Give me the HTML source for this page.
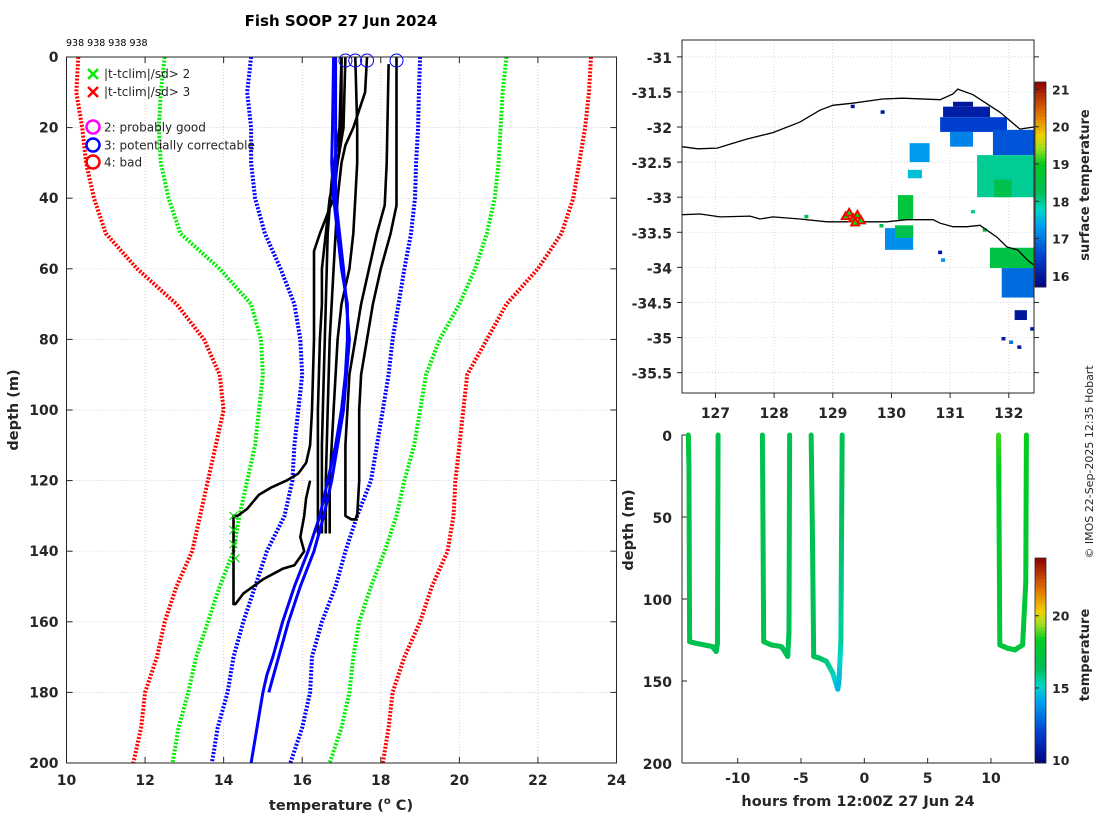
<!DOCTYPE html>
<html><head><meta charset="utf-8">
<style>
html,body{margin:0;padding:0;background:#fff;}
svg{display:block;font-family:"DejaVu Sans","Liberation Sans",sans-serif;}
.tk{font-size:14px;font-weight:bold;fill:#262626;}
.lab{font-size:14.5px;font-weight:bold;fill:#262626;}
</style></head>
<body>
<svg id="fig" width="1100" height="820" viewBox="0 0 1100 820" xmlns="http://www.w3.org/2000/svg"></svg>
<script>
// ---------- Left chart data ----------
const depths = [0,10,20,30,40,50,60,70,80,90,100,110,120,130,140,150,160,170,180,190,200];
const red3Lo   = [10.3,10.25,10.4,10.5,10.7,11.0,11.8,12.8,13.5,13.9,14.0,13.8,13.6,13.4,13.2,12.8,12.5,12.3,12.0,11.9,11.7];
const green2Lo = [12.5,12.4,12.35,12.4,12.6,12.9,13.9,14.7,14.95,15.0,14.9,14.8,14.6,14.4,14.25,13.9,13.6,13.3,13.1,12.85,12.7];
const blue1Lo  = [14.7,14.6,14.7,14.7,14.8,15.05,15.45,15.8,15.95,16.0,15.9,15.8,15.75,15.55,15.1,14.8,14.5,14.25,14.1,13.85,13.7];
const blue1Hi  = [19.0,18.97,18.95,18.9,18.87,18.77,18.6,18.45,18.3,18.2,18.05,17.9,17.75,17.4,17.1,16.85,16.5,16.25,16.2,16.0,15.7];
const green2Hi = [21.2,21.1,21.05,21.0,20.9,20.7,20.4,20.0,19.5,19.15,19.0,18.85,18.6,18.4,18.1,17.75,17.45,17.3,17.2,17.0,16.7];
const red3Hi   = [23.35,23.3,23.2,23.05,22.9,22.6,22.0,21.2,20.7,20.2,20.1,20.0,19.9,19.85,19.7,19.3,19.0,18.6,18.3,18.2,18.05];

const blueDepth = [0,20,30,40,50,60,70,80,90,100,110,120,130,140,150,160,170,175,180,190,200];
const blueTemp  = [16.8,16.77,16.75,16.8,16.9,17.0,17.15,17.15,17.1,17.0,16.85,16.65,16.45,16.15,15.8,15.5,15.25,15.1,15.0,14.85,14.7];
const blue2Depth = [0,40,60,80,100,120,130,140,150,160,170,180];
const blue2Temp  = [16.85,16.85,17.05,17.2,17.05,16.75,16.55,16.3,15.95,15.65,15.4,15.15];

const profA_d = [0,42,50,60,70,80,90,100,120,130,131];
const profA_t = [18.4,18.4,18.25,18.0,17.8,17.65,17.5,17.45,17.45,17.4,17.35];
const profB_d = [2,30,42,50,60,70,80,90,100,110,120,130,131,131];
const profB_t = [18.2,18.15,18.1,17.9,17.7,17.5,17.35,17.2,17.15,17.1,17.1,17.1,17.25,17.4];
const profC_d = [0,10,15,20,25,30,40,60,80,100,120,135];
const profC_t = [17.65,17.6,17.45,17.3,17.1,17.0,16.9,16.8,16.7,16.65,16.6,16.6];
const profD_d = [0,20,30,40,50,60,70,80,90,100,110,120,135];
const profD_t = [17.35,17.4,17.4,17.35,17.3,17.2,17.0,16.9,16.85,16.8,16.75,16.7,16.7];
const profE_d = [0,20,30,40,50,60,70,80,100,120,135];
const profE_t = [17.1,17.05,16.9,16.7,16.6,16.5,16.5,16.45,16.4,16.4,16.4];
const profF_d = [0,20,40,50,55,60,80,100,110,115,118,120,122,124,128,130,130,155,155,152,148,145,144,140,136,130,125,120];
const profF_t = [17.0,17.0,16.8,16.45,16.3,16.3,16.3,16.25,16.2,16.1,15.9,15.6,15.2,14.9,14.6,14.35,14.25,14.25,14.3,14.5,15.0,15.5,15.8,16.05,15.95,16.05,16.1,16.2];
const profG_d = [0,20,35,50,70,90,110,130,135];
const profG_t = [17.0,16.95,16.75,16.65,16.6,16.55,16.5,16.5,16.5];
const qcCircleTemps = [17.1,17.35,17.65,18.4];
const flagDepths = [130,134,138,142];
const flagTemps  = [14.25,14.25,14.25,14.3];

// ---------- Map data ----------
const coastN_lon = [126.43,126.70,127.03,127.30,127.54,127.98,128.44,128.78,129.00,129.34,129.85,130.19,130.83,131.05,131.13,131.39,131.85,132.19,132.43];
const coastN_lat = [-32.28,-32.31,-32.30,-32.23,-32.17,-32.08,-31.93,-31.76,-31.69,-31.66,-31.60,-31.59,-31.61,-31.53,-31.46,-31.54,-31.79,-32.03,-32.00];
const coastS_lon = [126.43,126.74,127.08,127.59,127.76,127.98,128.44,128.90,129.34,129.92,130.26,130.71,130.83,131.05,131.29,131.51,131.80,131.97,132.15,132.31,132.43];
const coastS_lat = [-33.25,-33.24,-33.28,-33.27,-33.31,-33.28,-33.31,-33.35,-33.35,-33.35,-33.32,-33.32,-33.37,-33.42,-33.42,-33.40,-33.57,-33.71,-33.75,-33.89,-33.97];
const patchLon0 = [131.05,130.88,130.83,131.00,131.73,131.46,131.75,130.31,130.28,130.11,129.89,130.06,131.68,131.88,132.10];
const patchLat0 = [-31.64,-31.71,-31.86,-32.07,-32.04,-32.40,-32.75,-32.23,-32.61,-32.97,-33.44,-33.40,-33.72,-34.01,-34.61];
const patchLon1 = [131.39,131.68,131.97,131.39,132.43,132.43,132.05,130.65,130.52,130.37,130.37,130.37,132.43,132.43,132.31];
const patchLat1 = [-31.71,-31.86,-32.07,-32.28,-32.40,-33.00,-33.00,-32.50,-32.73,-33.32,-33.75,-33.58,-34.01,-34.43,-34.75];
const patchSst  = [16.0,16.1,16.5,17.1,16.7,18.0,18.4,17.3,17.6,18.6,17.2,18.4,18.5,16.9,16.0];
const dotLon = [129.34,129.85,130.83,130.88,131.91,132.04,132.18,128.55,129.83,131.39,131.59,132.40];
const dotLat = [-31.71,-31.79,-33.79,-33.90,-35.02,-35.07,-35.14,-33.28,-33.41,-33.21,-33.47,-34.88];
const dotSst = [16.0,16.0,16.0,17.2,16.1,17.0,16.0,18.3,18.3,18.0,18.3,16.0];
const dropLon = [129.22,129.28,129.35,129.42,129.48,129.38];
const dropLat = [-33.27,-33.22,-33.30,-33.25,-33.33,-33.36];

// ---------- Time-depth data ----------
const tr1_h = [-13.9,-13.85,-13.8,-13.3,-12.0,-11.7,-11.6,-11.55];
const tr1_d = [0,20,126,127,129,132,127,0];
const tr1_t = [17.5,16.9,16.7,16.7,16.7,16.6,16.7,16.8];
const tr2_h = [-8.05,-8.0,-7.95,-7.35,-6.55,-6.2,-6.05,-5.95,-5.9];
const tr2_d = [0,60,126,128,129,133,135,120,0];
const tr2_t = [16.8,16.7,16.7,16.7,16.6,16.5,16.5,16.6,16.7];
const tr3_h = [-4.2,-4.1,-4.0,-3.55,-3.0,-2.5,-2.1,-2.0,-1.85,-1.75];
const tr3_d = [0,60,135,136,138,145,155,150,125,0];
const tr3_t = [16.8,16.6,16.4,16.3,16.0,15.5,14.6,14.5,15.6,16.7];
const tr4_h = [10.6,10.62,10.7,11.3,11.9,12.5,12.75,12.8];
const tr4_d = [0,25,128,130,131,128,90,0];
const tr4_t = [18.8,18.3,17.4,17.3,17.3,17.3,17.6,18.4];

// ---------- helpers ----------
const NS = 'http://www.w3.org/2000/svg';
const svg = document.getElementById('fig');
function mk(tag, attrs, parent){ const e=document.createElementNS(NS,tag); for(const k in attrs) e.setAttribute(k,attrs[k]); (parent||svg).appendChild(e); return e; }
function txt(s, attrs, parent){ const e=mk('text',attrs,parent); e.textContent=s; return e; }

const L = {x0:66.5,x1:616.5,y0:57,y1:763,t0:10,t1:24,d0:0,d1:200};
const lx = t => L.x0 + (t-L.t0)/(L.t1-L.t0)*(L.x1-L.x0);
const ly = d => L.y0 + (d-L.d0)/(L.d1-L.d0)*(L.y1-L.y0);
const M = {x0:682,x1:1034,y0:40,y1:393,lon0:126.43,lon1:132.43,lat0:-30.76,lat1:-35.79};
const mx = lon => M.x0 + (lon-M.lon0)/(M.lon1-M.lon0)*(M.x1-M.x0);
const my = lat => M.y0 + (lat-M.lat0)/(M.lat1-M.lat0)*(M.y1-M.y0);
const T = {x0:682,x1:1034,y0:435,y1:763,h0:-14.4,h1:13.4,d0:0,d1:200};
const tx = h => T.x0 + (h-T.h0)/(T.h1-T.h0)*(T.x1-T.x0);
const ty = d => T.y0 + (d-T.d0)/(T.d1-T.d0)*(T.y1-T.y0);

const stops = [[0,[0,0,128]],[0.15,[0,64,208]],[0.3,[0,160,240]],[0.38,[0,216,200]],[0.46,[0,190,90]],[0.6,[0,204,32]],[0.68,[160,224,32]],[0.74,[240,208,0]],[0.85,[224,112,0]],[1,[144,0,0]]];
function cmap(f){ f=Math.max(0,Math.min(1,f)); for(let i=1;i<stops.length;i++){ if(f<=stops[i][0]){ const a=stops[i-1],b=stops[i]; const u=(f-a[0])/(b[0]-a[0]); const c=a[1].map((v,k)=>Math.round(v+(b[1][k]-v)*u)); return `rgb(${c[0]},${c[1]},${c[2]})`; } } return 'rgb(144,0,0)'; }

// ---------- Title ----------
const title = txt('Fish SOOP 27 Jun 2024',{x:341,y:26,'text-anchor':'middle','font-size':15,'font-weight':'bold',fill:'#000'});


const cnt = txt('938 938 938 938',{x:66,y:46,'font-size':9.5,fill:'#000'});



// ---------- Left chart ----------
const gL = mk('g',{});


const xt = [10,12,14,16,18,20,22,24];
const yt = [0,20,40,60,80,100,120,140,160,180,200];
xt.forEach(t=>{
  if(t>L.t0 && t<L.t1) mk('line',{x1:lx(t),x2:lx(t),y1:L.y0,y2:L.y1,stroke:'#e0b8a0','stroke-width':0.7,'stroke-dasharray':'1,2'},gL);
  mk('line',{x1:lx(t),x2:lx(t),y1:L.y1,y2:L.y1-6,stroke:'#262626'},gL);
  mk('line',{x1:lx(t),x2:lx(t),y1:L.y0,y2:L.y0+6,stroke:'#262626'},gL);
  const e=txt(String(t),{x:lx(t),y:L.y1+22,'text-anchor':'middle',class:'tk'},gL);
  
  
});
yt.forEach(d=>{
  if(d>L.d0 && d<L.d1) mk('line',{x1:L.x0,x2:L.x1,y1:ly(d),y2:ly(d),stroke:'#b8c0e8','stroke-width':0.7,'stroke-dasharray':'1,2'},gL);
  mk('line',{x1:L.x0,x2:L.x0+6,y1:ly(d),y2:ly(d),stroke:'#262626'},gL);
  mk('line',{x1:L.x1,x2:L.x1-6,y1:ly(d),y2:ly(d),stroke:'#262626'},gL);
  const e=txt(String(d),{x:L.x0-8,y:ly(d)+5,'text-anchor':'end',class:'tk'},gL);
  
  
});
function pathLD(ds,ts){ return ds.map((d,i)=>(i?'L':'M')+lx(ts[i]).toFixed(1)+','+ly(d).toFixed(1)).join(''); }
const climSeries = [[red3Lo,'#ff0000','clim-minus-3sd'],[green2Lo,'#00ee00','clim-minus-2sd'],[blue1Lo,'#0000ff','clim-minus-1sd'],[blue1Hi,'#0000ff','clim-plus-1sd'],[green2Hi,'#00ee00','clim-plus-2sd'],[red3Hi,'#ff0000','clim-plus-3sd']];
climSeries.forEach(s=>{
  const p=mk('path',{d:pathLD(depths,s[0]),fill:'none',stroke:s[1],'stroke-width':4,'stroke-dasharray':'2,1.6'},gL);
  
  
});
const profs=[[profA_d,profA_t],[profB_d,profB_t],[profC_d,profC_t],[profD_d,profD_t],[profE_d,profE_t],[profF_d,profF_t],[profG_d,profG_t]];
profs.forEach(p=>{
  const e=mk('path',{d:pathLD(p[0],p[1]),fill:'none',stroke:'#000','stroke-width':2.6,'stroke-linejoin':'round'},gL);
  
  
});
[[blueDepth,blueTemp],[blue2Depth,blue2Temp]].forEach(p=>{
  const e=mk('path',{d:pathLD(p[0],p[1]),fill:'none',stroke:'#0000ff','stroke-width':3,'stroke-linejoin':'round'},gL);
  
  
});
qcCircleTemps.forEach(t=>{
  const c=mk('circle',{cx:lx(t),cy:ly(1),r:6.5,fill:'none',stroke:'#0000ff','stroke-width':1},gL);
  
  
});
flagDepths.forEach((d,i)=>{
  const x=lx(flagTemps[i]), y=ly(d);
  const g=mk('path',{d:`M${x-4},${y-4}L${x+4},${y+4}M${x-4},${y+4}L${x+4},${y-4}`,stroke:'#00cc00','stroke-width':1},gL);
  
  
});
mk('rect',{x:L.x0,y:L.y0,width:L.x1-L.x0,height:L.y1-L.y0,fill:'none',stroke:'#262626','stroke-width':1},gL);
const lg = mk('g',{},gL);


function cross(x,y,c){ mk('path',{d:`M${x-5},${y-5}L${x+5},${y+5}M${x-5},${y+5}L${x+5},${y-5}`,stroke:c,'stroke-width':2.5},lg); }
cross(93,74,'#00ee00'); cross(93,92,'#ff0000');
txt('|t-tclim|/sd> 2',{x:104,y:78,'font-size':12,fill:'#262626'},lg);
txt('|t-tclim|/sd> 3',{x:104,y:96,'font-size':12,fill:'#262626'},lg);
[['#ff00ff','2: probably good',127],['#0000ff','3: potentially correctable',145],['#ff0000','4: bad',162]].forEach(r=>{
  mk('circle',{cx:93,cy:r[2],r:6.5,fill:'none',stroke:r[0],'stroke-width':2.5},lg);
  txt(r[1],{x:104,y:r[2]+4.5,'font-size':12,fill:'#262626'},lg);
});
const yl=txt('depth (m)',{x:0,y:0,transform:'translate(18,410) rotate(-90)','text-anchor':'middle',class:'lab'});


const xl=mk('text',{x:341,y:810,'text-anchor':'middle',class:'lab'});
xl.innerHTML='temperature (<tspan dy="-6" font-size="10">o</tspan><tspan dy="6"> C)</tspan>';



// ---------- Map ----------
const gM = mk('g',{});


const lonT=[127,128,129,130,131,132], latT=[-31,-31.5,-32,-32.5,-33,-33.5,-34,-34.5,-35,-35.5];
lonT.forEach(v=>{
  mk('line',{x1:mx(v),x2:mx(v),y1:M.y0,y2:M.y1,stroke:'#e0c0b0','stroke-width':0.7,'stroke-dasharray':'1,2'},gM);
  mk('line',{x1:mx(v),x2:mx(v),y1:M.y1,y2:M.y1+5,stroke:'#262626'},gM);
  const e=txt(String(v),{x:mx(v),y:M.y1+25,'text-anchor':'middle',class:'tk'},gM);
  
  
});
latT.forEach(v=>{
  mk('line',{x1:M.x0,x2:M.x1,y1:my(v),y2:my(v),stroke:'#c0c8ec','stroke-width':0.7,'stroke-dasharray':'1,2'},gM);
  mk('line',{x1:M.x0-5,x2:M.x0,y1:my(v),y2:my(v),stroke:'#262626'},gM);
  mk('line',{x1:M.x1,x2:M.x1+5,y1:my(v),y2:my(v),stroke:'#262626'},gM);
  const e=txt(String(v),{x:M.x0-10,y:my(v)+6,'text-anchor':'end',class:'tk'},gM);
  
  
});
const sMin=15.7,sMax=21.2;
patchSst.forEach((s,i)=>{
  const x0=mx(patchLon0[i]),x1=mx(patchLon1[i]),y0=my(patchLat0[i]),y1=my(patchLat1[i]);
  const r=mk('rect',{x:Math.min(x0,x1),y:Math.min(y0,y1),width:Math.abs(x1-x0),height:Math.abs(y1-y0),fill:cmap((s-sMin)/(sMax-sMin))},gM);
  
  
});
dotSst.forEach((s,i)=>{
  const r=mk('rect',{x:mx(dotLon[i])-2,y:my(dotLat[i])-2,width:4,height:3.5,fill:cmap((s-sMin)/(sMax-sMin))},gM);
  
  
});
function lonlatPath(lo,la){ return lo.map((v,i)=>(i?'L':'M')+mx(v).toFixed(1)+','+my(la[i]).toFixed(1)).join(''); }
[[coastN_lon,coastN_lat,'shelf-contour-north'],[coastS_lon,coastS_lat,'shelf-contour-south']].forEach(c=>{
  const p=mk('path',{d:lonlatPath(c[0],c[1]),fill:'none',stroke:'#000','stroke-width':1.3},gM);
  
  
});
dropLon.forEach((v,i)=>{
  const x=mx(v),y=my(dropLat[i]);
  mk('path',{d:`M${x},${y-4}L${x+5},${y+4}L${x-5},${y+4}Z`,fill:'#00dd00',stroke:'none'},gM);
  const t=mk('path',{d:`M${x},${y-4}L${x+4},${y+3}L${x-4},${y+3}Z`,fill:'none',stroke:'#ff0000','stroke-width':1.8},gM);
  
  
});
mk('rect',{x:M.x0,y:M.y0,width:M.x1-M.x0,height:M.y1-M.y0,fill:'none',stroke:'#262626'},gM);
const cb1 = mk('g',{});


const cbY0=82,cbY1=287;
for(let i=0;i<60;i++){ const f=i/60; mk('rect',{x:1035,y:cbY1-(i+1)/60*(cbY1-cbY0),width:11,height:(cbY1-cbY0)/60+0.5,fill:cmap(f+0.5/60)},cb1); }
mk('rect',{x:1035,y:cbY0,width:11,height:cbY1-cbY0,fill:'none',stroke:'#262626','stroke-width':0.8},cb1);
[16,17,18,19,20,21].forEach(v=>{
  const y=cbY1-(v-sMin)/(sMax-sMin)*(cbY1-cbY0);
  mk('line',{x1:1035,x2:1039,y1:y,y2:y,stroke:'#262626'},cb1);
  txt(String(v),{x:1052,y:y+5,'font-size':12.5,'font-weight':'bold',fill:'#262626'},cb1);
});
const cbt1=txt('surface temperature',{x:0,y:0,transform:'translate(1089,185) rotate(-90)','text-anchor':'middle','font-size':13,'font-weight':'bold',fill:'#262626'});



// ---------- Time-depth ----------
const gT = mk('g',{});


const hT=[-10,-5,0,5,10], dT=[0,50,100,150,200];
hT.forEach(v=>{
  mk('line',{x1:tx(v),x2:tx(v),y1:T.y1,y2:T.y1-5,stroke:'#262626'},gT);
  const e=txt(String(v),{x:tx(v),y:T.y1+20,'text-anchor':'middle',class:'tk'},gT);
  
  
});
dT.forEach(v=>{
  mk('line',{x1:T.x0,x2:T.x0+5,y1:ty(v),y2:ty(v),stroke:'#262626'},gT);
  const e=txt(String(v),{x:T.x0-10,y:ty(v)+6,'text-anchor':'end',class:'tk'},gT);
  
  
});
const tMin=9.8,tMax=24;
[[tr1_h,tr1_d,tr1_t],[tr2_h,tr2_d,tr2_t],[tr3_h,tr3_d,tr3_t],[tr4_h,tr4_d,tr4_t]].forEach(tr=>{
  const g=mk('g',{},gT);
  
  
  for(let i=0;i<tr[0].length-1;i++){
    const n=8;
    for(let k=0;k<n;k++){
      const a=k/n,b=(k+1)/n;
      const h0=tr[0][i]+(tr[0][i+1]-tr[0][i])*a, h1=tr[0][i]+(tr[0][i+1]-tr[0][i])*b;
      const d0=tr[1][i]+(tr[1][i+1]-tr[1][i])*a, d1=tr[1][i]+(tr[1][i+1]-tr[1][i])*b;
      const tm=tr[2][i]+(tr[2][i+1]-tr[2][i])*(a+b)/2;
      mk('line',{x1:tx(h0),y1:ty(d0),x2:tx(h1),y2:ty(d1),stroke:cmap((tm-tMin)/(tMax-tMin)),'stroke-width':5,'stroke-linecap':'round'},g);
    }
  }
});
mk('line',{x1:T.x0,x2:T.x0,y1:T.y0,y2:T.y1,stroke:'#262626'},gT);
mk('line',{x1:T.x0,x2:T.x1,y1:T.y1,y2:T.y1,stroke:'#262626'},gT);
const tyl=txt('depth (m)',{x:0,y:0,transform:'translate(633,530) rotate(-90)','text-anchor':'middle',class:'lab'});


const txl=txt('hours from 12:00Z 27 Jun 24',{x:858,y:806,'text-anchor':'middle',class:'lab'});


const cb2 = mk('g',{});


const c2Y0=558,c2Y1=763;
for(let i=0;i<60;i++){ const f=i/60; mk('rect',{x:1035,y:c2Y1-(i+1)/60*(c2Y1-c2Y0),width:11,height:(c2Y1-c2Y0)/60+0.5,fill:cmap(f+0.5/60)},cb2); }
mk('rect',{x:1035,y:c2Y0,width:11,height:c2Y1-c2Y0,fill:'none',stroke:'#262626','stroke-width':0.8},cb2);
[10,15,20].forEach(v=>{
  const y=c2Y1-(v-tMin)/(tMax-tMin)*(c2Y1-c2Y0);
  mk('line',{x1:1035,x2:1039,y1:y,y2:y,stroke:'#262626'},cb2);
  txt(String(v),{x:1052,y:y+5,'font-size':12.5,'font-weight':'bold',fill:'#262626'},cb2);
});
const cbt2=txt('temperature',{x:0,y:0,transform:'translate(1089,655) rotate(-90)','text-anchor':'middle','font-size':13,'font-weight':'bold',fill:'#262626'});


const cp=txt('© IMOS 22-Sep-2025 12:35 Hobart',{x:0,y:0,transform:'translate(1093,462) rotate(-90)','text-anchor':'middle','font-size':11,fill:'#262626'});


</script>
</body></html>
